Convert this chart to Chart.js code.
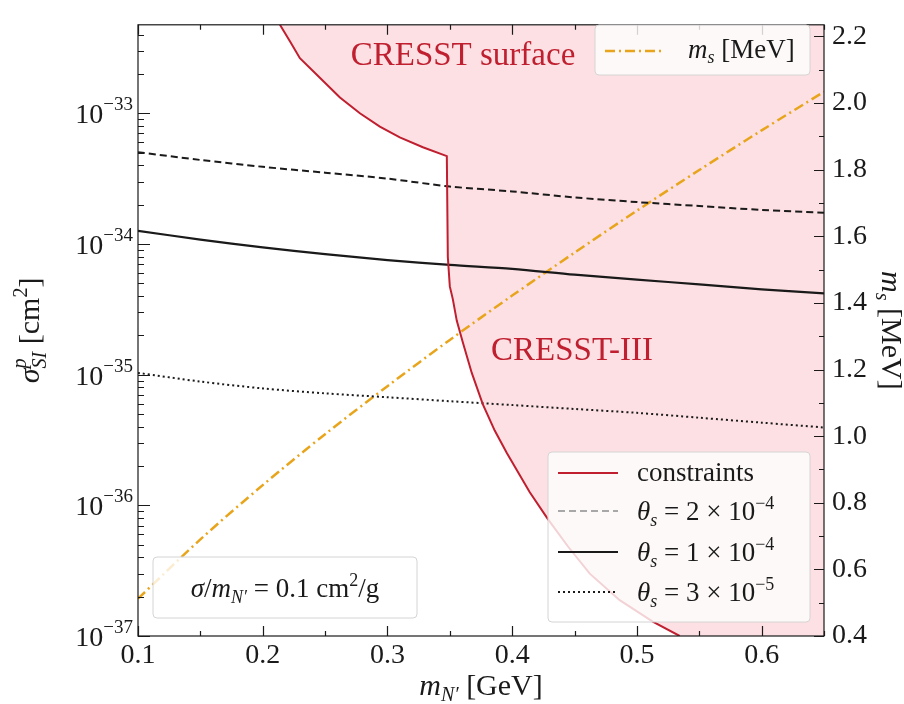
<!DOCTYPE html>
<html>
<head>
<meta charset="utf-8">
<script src="https://cdn.jsdelivr.net/npm/chart.js@4.4.1/dist/chart.umd.min.js"></script>
<style>
html, body { margin: 0; padding: 0; background: #fff; }
#wrap { width: 904px; height: 704px; }
</style>
</head>
<body>
<div id="wrap"><canvas id="chart" width="904" height="704"></canvas></div>
<script>
// dark photon mass grid [GeV] and the three mixing-angle curves
const massGrid = [0.10, 0.15, 0.20, 0.25, 0.30, 0.35, 0.40, 0.45, 0.50, 0.55, 0.60, 0.65];
const sigmaTheta2e4 = [5.03e-34, 4.39e-34, 3.89e-34, 3.51e-34, 3.16e-34, 2.75e-34, 2.52e-34, 2.27e-34, 2.09e-34, 1.95e-34, 1.82e-34, 1.73e-34];
const sigmaTheta1e4 = [1.26e-34, 1.08e-34, 9.4e-35, 8.36e-35, 7.53e-35, 6.91e-35, 6.45e-35, 5.82e-35, 5.34e-35, 4.9e-35, 4.49e-35, 4.19e-35];
const sigmaTheta3e5 = [1.03e-35, 8.85e-36, 7.84e-36, 7.19e-36, 6.71e-36, 6.26e-36, 5.85e-36, 5.46e-36, 5.1e-36, 4.68e-36, 4.29e-36, 3.94e-36];
// scalar mass [MeV] on the right axis
const scalarMass = [0.512, 0.690, 0.853, 1.006, 1.150, 1.289, 1.422, 1.551, 1.677, 1.799, 1.918, 2.034];

// CRESST surface + CRESST-III exclusion contour
const limitMass = [0.2138, 0.2218, 0.2298, 0.2458, 0.2619, 0.2779, 0.2939, 0.3099, 0.3284, 0.3476,
                   0.3484, 0.3500, 0.3524, 0.3556, 0.3604, 0.3676, 0.3764, 0.3860, 0.3957, 0.4141,
                   0.4285, 0.4446, 0.4622, 0.4862, 0.5127, 0.5343];
const limitSigma = [4.75e-33, 3.55e-33, 2.64e-33, 1.87e-33, 1.32e-33, 1.0e-33, 7.89e-34, 6.53e-34, 5.49e-34, 4.7e-34,
                    7.94e-35, 4.73e-35, 3.78e-35, 2.58e-35, 1.77e-35, 1.03e-35, 5.94e-36, 3.73e-36, 2.51e-36, 1.26e-36,
                    7.88e-37, 4.86e-37, 3.0e-37, 1.88e-37, 1.29e-37, 1.0e-37];

const thetaLabels = [['2', '4'], ['1', '4'], ['3', '5']];

const SERIF = "'Liberation Serif', 'DejaVu Serif', serif";
const RED = '#bf1f2f';
const ORANGE = '#e8a51c';

function fontOf(size, it) { return (it ? 'italic ' : '') + size + 'px ' + SERIF; }

// parts: {t, size, it, dy, hold}
function drawRich(ctx, parts, x, y, align) {
    let total = 0, pending = 0;
    parts.forEach(p => {
        ctx.font = fontOf(p.size, p.it);
        p.w = ctx.measureText(p.t).width;
        if (p.hold) { pending = Math.max(pending, p.w); }
        else { total += Math.max(p.w, pending); pending = 0; }
    });
    let cx = x;
    if (align === 'center') cx = x - total / 2;
    if (align === 'right') cx = x - total;
    ctx.textBaseline = 'alphabetic';
    ctx.textAlign = 'left';
    pending = 0;
    parts.forEach(p => {
        ctx.font = fontOf(p.size, p.it);
        ctx.fillText(p.t, cx, y + (p.dy || 0));
        if (p.hold) { pending = Math.max(pending, p.w); }
        else { cx += Math.max(p.w, pending); pending = 0; }
    });
}

function legendBox(ctx, x, y, w, h) {
    ctx.save();
    ctx.beginPath();
    ctx.roundRect(x, y, w, h, 4);
    ctx.fillStyle = 'rgba(255,255,255,0.8)';
    ctx.fill();
    ctx.strokeStyle = '#d4d4d4';
    ctx.lineWidth = 1;
    ctx.stroke();
    ctx.restore();
}

function sample(ctx, x0, x1, y, color, dash, width) {
    ctx.save();
    ctx.beginPath();
    ctx.strokeStyle = color;
    ctx.lineWidth = width;
    ctx.setLineDash(dash);
    ctx.moveTo(x0, y);
    ctx.lineTo(x1, y);
    ctx.stroke();
    ctx.restore();
}

const decorations = {
    id: 'decorations',
    afterDatasetsDraw(chart) {
        const ctx = chart.ctx;
        const a = chart.chartArea;
        const xs = chart.scales.x, ys = chart.scales.y, y2 = chart.scales.y2;
        ctx.save();

        // frame
        ctx.strokeStyle = '#1a1a1a';
        ctx.lineWidth = 1.2;
        ctx.strokeRect(a.left, a.top, a.right - a.left, a.bottom - a.top);

        // inward ticks
        ctx.beginPath();
        xs.ticks.forEach(t => {
            const px = Math.round(xs.getPixelForValue(t.value)) + 0.5;
            const major = Math.abs(t.value * 10 - Math.round(t.value * 10)) < 1e-6;
            const len = major ? 10 : 5;
            ctx.moveTo(px, a.bottom); ctx.lineTo(px, a.bottom - len);
            ctx.moveTo(px, a.top); ctx.lineTo(px, a.top + len);
        });
        ys.ticks.forEach(t => {
            const lg = Math.log10(t.value);
            const major = Math.abs(lg - Math.round(lg)) < 1e-6;
            const py = Math.round(ys.getPixelForValue(t.value)) + 0.5;
            ctx.moveTo(a.left, py); ctx.lineTo(a.left + (major ? 12 : 6), py);
        });
        y2.ticks.forEach(t => {
            const major = Math.round(t.value * 10) % 2 === 0;
            const py = Math.round(y2.getPixelForValue(t.value)) + 0.5;
            ctx.moveTo(a.right, py); ctx.lineTo(a.right - (major ? 10 : 5), py);
        });
        ctx.lineWidth = 1.2;
        ctx.stroke();

        // left log labels 10^n
        ctx.fillStyle = '#1a1a1a';
        ys.ticks.forEach(t => {
            const lg = Math.log10(t.value);
            const e = Math.round(lg);
            if (Math.abs(lg - e) > 1e-6) return;
            const py = ys.getPixelForValue(t.value);
            drawRich(ctx, [{t: '10', size: 28}, {t: '\u2212' + (-e), size: 19, dy: -13}], 133, py + 10, 'right');
        });

        // axis titles
        drawRich(ctx, [{t: 'm', size: 30, it: true}, {t: 'N\u2032', size: 20, it: true, dy: 6}, {t: ' [GeV]', size: 30}],
            (a.left + a.right) / 2, 695, 'center');

        ctx.save();
        ctx.translate(29, (a.top + a.bottom) / 2);
        ctx.rotate(-Math.PI / 2);
        drawRich(ctx, [{t: '\u03c3', size: 30, it: true}, {t: 'p', size: 20, it: true, dy: -13, hold: true},
            {t: 'SI', size: 20, it: true, dy: 7}, {t: ' [cm', size: 30}, {t: '2', size: 20, dy: -12}, {t: ']', size: 30}],
            0, 10, 'center');
        ctx.restore();

        ctx.save();
        ctx.translate(892, (a.top + a.bottom) / 2);
        ctx.rotate(Math.PI / 2);
        drawRich(ctx, [{t: 'm', size: 30, it: true}, {t: 's', size: 20, it: true, dy: 6}, {t: ' [MeV]', size: 30}],
            0, 10, 'center');
        ctx.restore();

        // region labels
        ctx.fillStyle = RED;
        drawRich(ctx, [{t: 'CRESST surface', size: 33}], 463, 65, 'center');
        drawRich(ctx, [{t: 'CRESST-III', size: 33}], 572, 360, 'center');

        // top-right legend
        legendBox(ctx, 595, 25, 215, 50);
        sample(ctx, 605, 662, 51, ORANGE, [10, 4, 2, 4], 2.5);
        ctx.fillStyle = '#1a1a1a';
        drawRich(ctx, [{t: 'm', size: 27, it: true}, {t: 's', size: 18, it: true, dy: 5}, {t: ' [MeV]', size: 27}], 688, 58, 'left');

        // bottom-right legend
        legendBox(ctx, 548, 452, 262, 170);
        const rows = [473, 511, 552, 592];
        sample(ctx, 558, 618, rows[0], RED, [], 2.2);
        sample(ctx, 558, 618, rows[1], '#a8a8a8', [7, 4], 2);
        sample(ctx, 558, 618, rows[2], '#1a1a1a', [], 2.2);
        sample(ctx, 558, 618, rows[3], '#1a1a1a', [2, 3], 2);
        drawRich(ctx, [{t: 'constraints', size: 27}], 637, rows[0] + 8, 'left');
        thetaLabels.forEach((lab, i) => {
            drawRich(ctx, [{t: '\u03b8', size: 27, it: true}, {t: 's', size: 18, it: true, dy: 6},
                {t: ' = ' + lab[0] + ' \u00d7 10', size: 27}, {t: '\u2212' + lab[1], size: 18, dy: -11}],
                637, rows[i + 1] + 9, 'left');
        });

        // bottom-left note
        legendBox(ctx, 153, 557, 264, 61);
        drawRich(ctx, [{t: '\u03c3', size: 27, it: true}, {t: '/', size: 27}, {t: 'm', size: 27, it: true},
            {t: 'N\u2032', size: 18, it: true, dy: 6}, {t: ' = 0.1 cm', size: 27}, {t: '2', size: 18, dy: -11}, {t: '/g', size: 27}],
            285, 597, 'center');

        ctx.restore();
    }
};

const pts = (xs, ys) => xs.map((x, i) => ({x: x, y: ys[i]}));
const fillPts = pts(limitMass, limitSigma).concat([{x: massGrid[massGrid.length - 1], y: limitSigma[limitSigma.length - 1]}]);

new Chart(document.getElementById('chart'), {
    type: 'line',
    data: {
        datasets: [
            {data: fillPts, borderWidth: 0, borderColor: 'rgba(0,0,0,0)', backgroundColor: 'rgba(240,60,80,0.16)', fill: 'end', pointRadius: 0, yAxisID: 'y'},
            {data: pts(limitMass, limitSigma), borderColor: RED, borderWidth: 2, fill: false, pointRadius: 0, yAxisID: 'y'},
            {data: pts(massGrid, sigmaTheta2e4), borderColor: '#1a1a1a', borderWidth: 2, borderDash: [7, 4], fill: false, pointRadius: 0, tension: 0.3, yAxisID: 'y'},
            {data: pts(massGrid, sigmaTheta1e4), borderColor: '#1a1a1a', borderWidth: 2.2, fill: false, pointRadius: 0, tension: 0.3, yAxisID: 'y'},
            {data: pts(massGrid, sigmaTheta3e5), borderColor: '#1a1a1a', borderWidth: 2, borderDash: [2, 3], fill: false, pointRadius: 0, tension: 0.3, yAxisID: 'y'},
            {data: pts(massGrid, scalarMass), borderColor: ORANGE, borderWidth: 2.5, borderDash: [10, 4, 2, 4], fill: false, pointRadius: 0, tension: 0.3, yAxisID: 'y2'}
        ]
    },
    options: {
        responsive: false,
        animation: false,
        devicePixelRatio: 1,
        layout: { padding: { top: 13, left: 0, right: 0, bottom: 0 } },
        plugins: { legend: { display: false }, tooltip: { enabled: false }, filler: { drawTime: 'beforeDatasetsDraw' } },
        scales: {
            x: {
                type: 'linear', min: 0.1, max: 0.65,
                afterBuildTicks: s => { const t = []; for (let i = 0; i <= 11; i++) t.push({value: +(0.1 + i * 0.05).toFixed(2)}); s.ticks = t; },
                afterFit: s => { s.height = 68; },
                grid: { display: false, drawTicks: false },
                border: { display: false },
                ticks: {
                    color: '#1a1a1a', padding: 3, maxRotation: 0, autoSkip: false,
                    font: { family: SERIF, size: 28 },
                    callback: v => Math.abs(v * 10 - Math.round(v * 10)) < 1e-6 ? v.toFixed(1) : ''
                }
            },
            y: {
                type: 'logarithmic', position: 'left', min: 1e-37, max: 4.75e-33,
                afterBuildTicks: s => {
                    const t = [];
                    for (let e = -37; e <= -33; e++) for (let m = 1; m <= 9; m++) {
                        const v = m * Math.pow(10, e);
                        if (v >= 1e-37 && v <= 4.75e-33) t.push({value: v});
                    }
                    s.ticks = t;
                },
                afterFit: s => { s.width = 138; },
                grid: { display: false, drawTicks: false },
                border: { display: false },
                ticks: { display: false }
            },
            y2: {
                type: 'linear', position: 'right', min: 0.4, max: 2.235,
                afterBuildTicks: s => { const t = []; for (let i = 4; i <= 22; i++) t.push({value: i / 10}); s.ticks = t; },
                afterFit: s => { s.width = 80; },
                grid: { display: false, drawTicks: false },
                border: { display: false },
                ticks: {
                    color: '#1a1a1a', padding: 8, autoSkip: false,
                    font: { family: SERIF, size: 28 },
                    callback: v => Math.round(v * 10) % 2 === 0 ? v.toFixed(1) : ''
                }
            }
        }
    },
    plugins: [decorations]
});
</script>
</body>
</html>
